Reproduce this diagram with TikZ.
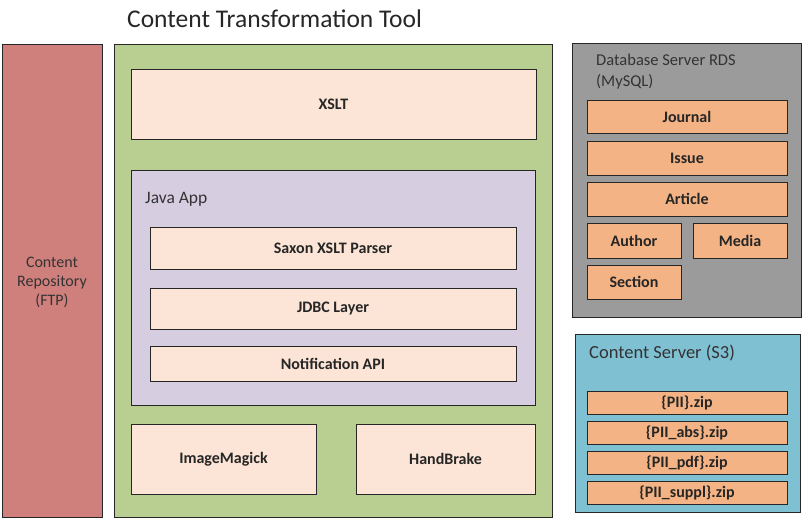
\documentclass[tikz,border=0pt]{standalone}
\usepackage{fontspec}
\setmainfont{Carlito}
\definecolor{repo}{HTML}{D0807C}
\definecolor{cttgreen}{HTML}{B9CF92}
\definecolor{peach}{HTML}{FCE5D6}
\definecolor{javap}{HTML}{D6CDE1}
\definecolor{dbgray}{HTML}{9B9B9B}
\definecolor{tbl}{HTML}{F4B384}
\definecolor{s3blue}{HTML}{80C0D3}
\tikzset{
  box/.style={draw=black!85, line width=1pt},
  lbl/.style={font=\fontsize{16}{19}\selectfont, text=black!80, inner sep=0pt},
  btxt/.style={font=\fontsize{16}{19}\selectfont\bfseries, text=black!85},
}
\begin{document}
\begin{tikzpicture}[x=1pt,y=-1pt]
\useasboundingbox (0,0) rectangle (802,519);
% title
\node[font=\fontsize{25.5}{30}\selectfont, text=black!85, anchor=west, inner sep=0pt] (title) at (127,19) {Content Transformation Tool};
% repository
\draw[box, fill=repo] (2,45) rectangle (102,517);
\node[lbl, align=center] (repo) at (52,282) {Content\\Repository\\(FTP)};
% green tool box
\draw[box, fill=cttgreen] (114,45) rectangle (552,517);
\draw[box, fill=peach] (131,69) rectangle (536,139);
\node[btxt] (xslt) at (333.5,104) {XSLT};
% java app
\draw[box, fill=javap] (131,170) rectangle (535,405);
\node[lbl, anchor=west, font=\fontsize{17.5}{21}\selectfont] (java) at (145,199) {Java App};
\draw[box, fill=peach] (150,227) rectangle (516,269);
\node[btxt] (saxon) at (333,248) {Saxon XSLT Parser};
\draw[box, fill=peach] (150,288) rectangle (516,329);
\node[btxt] (jdbc) at (333,308.5) {JDBC Layer};
\draw[box, fill=peach] (150,346) rectangle (516,381);
\node[btxt] (notif) at (333,363.5) {Notification API};
\draw[box, fill=peach] (131,424) rectangle (316,494);
\node[btxt] (im) at (223.5,459) {ImageMagick};
\draw[box, fill=peach] (356,424) rectangle (535,494);
\node[btxt] (hb) at (445.5,459) {HandBrake};
% database server
\draw[box, fill=dbgray] (572,44) rectangle (801,317);
\node[lbl, anchor=north west, align=left, font=\fontsize{16.5}{21}\selectfont] (db) at (596,54) {Database Server RDS\\(MySQL)};
\draw[box, fill=tbl] (587,100) rectangle (787,133);
\node[btxt] (journal) at (687,116.5) {Journal};
\draw[box, fill=tbl] (587,141) rectangle (787,175);
\node[btxt] (issue) at (687,158) {Issue};
\draw[box, fill=tbl] (587,182) rectangle (787,216);
\node[btxt] (article) at (687,199) {Article};
\draw[box, fill=tbl] (587,223) rectangle (681,258);
\node[btxt] (author) at (634,240.5) {Author};
\draw[box, fill=tbl] (693,223) rectangle (787,258);
\node[btxt] (media) at (740,240.5) {Media};
\draw[box, fill=tbl] (587,265) rectangle (681,299);
\node[btxt] (section) at (634,282) {Section};
% content server
\draw[box, fill=s3blue] (575,334) rectangle (800,512);
\node[lbl, anchor=west, font=\fontsize{18.5}{21}\selectfont] (s3) at (589,353) {Content Server (S3)};
\draw[box, fill=tbl] (587,391) rectangle (787,414);
\node[btxt] (z1) at (687,402.5) {\{PII\}.zip};
\draw[box, fill=tbl] (587,421) rectangle (787,444);
\node[btxt] (z2) at (687,432.5) {\{PII\_abs\}.zip};
\draw[box, fill=tbl] (587,451) rectangle (787,474);
\node[btxt] (z3) at (687,462.5) {\{PII\_pdf\}.zip};
\draw[box, fill=tbl] (587,481) rectangle (787,504);
\node[btxt] (z4) at (687,492.5) {\{PII\_suppl\}.zip};
\end{tikzpicture}
\end{document}
